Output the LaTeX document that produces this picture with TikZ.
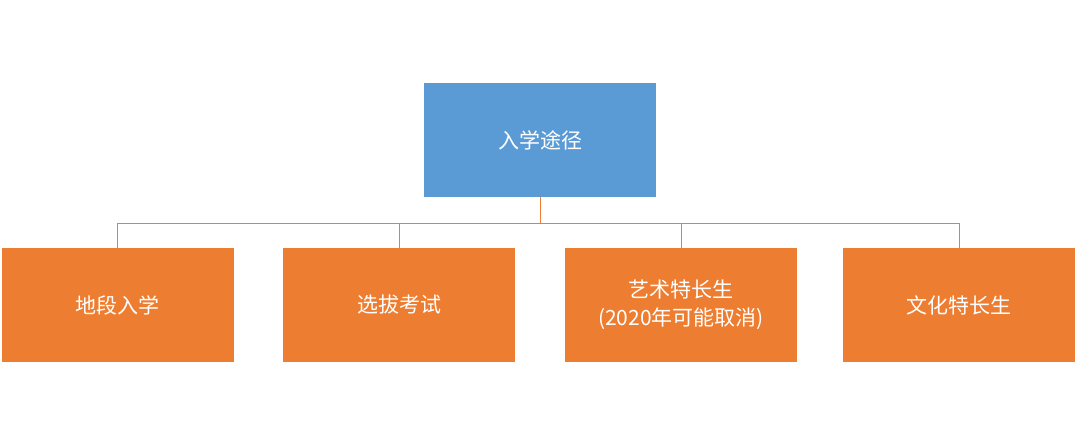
\documentclass[tikz,border=0pt]{standalone}
\usepackage{fontspec}
\setmainfont{Noto Sans CJK SC}
\usetikzlibrary{positioning}
\definecolor{rootblue}{HTML}{5B9BD5}
\definecolor{leaforange}{HTML}{ED7D31}
\tikzset{
  pathbox/.style={minimum width=232pt, minimum height=114pt, inner sep=0pt, text=white, font=\fontsize{21pt}{28pt}\selectfont, align=center},
  link/.style={draw=leaforange, line width=1pt}
}
\begin{document}
\begin{tikzpicture}[x=1pt,y=1pt]
\useasboundingbox (0,0) rectangle (1080,446);
% root
\node[pathbox, fill=rootblue] (root) at (540,306) {入学途径};
% leaves
\node[pathbox, fill=leaforange] (local) at (117.5,141) {地段入学};
\node[pathbox, fill=leaforange] (exam) at (399,141) {选拔考试};
\node[pathbox, fill=leaforange] (art) at (681,141) {艺术特长生\\(2020年可能取消)};
\node[pathbox, fill=leaforange] (culture) at (959,141) {文化特长生};
\coordinate (bus) at (540,222);
\draw[link] (root.south) -- (bus);
\foreach \leaf in {local,exam,art,culture}
  \draw[link] (bus) -| (\leaf.north);
\end{tikzpicture}
\end{document}
